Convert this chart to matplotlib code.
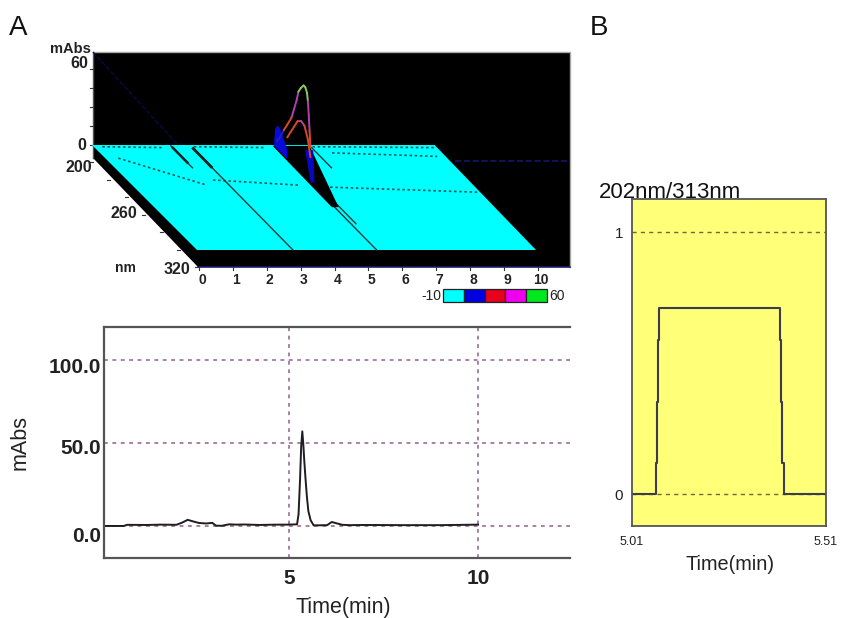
#!/usr/bin/env python3
"""
UV chromatogram figure: 3D spectrum view, 2D trace and peak purity ratio.
"""
import matplotlib
matplotlib.use("Agg")
import matplotlib.pyplot as plt
from matplotlib.transforms import ScaledTranslation
import numpy as np

W, H = 841, 618
plt.rcParams['font.family'] = ['Liberation Sans', 'DejaVu Sans']

# 3D view: spectrum outlines at the main peak (nm, mAbs)
outer_nm = [204, 208, 212, 216, 221, 224, 227, 229, 232, 235, 237, 239, 240, 241, 242, 243]
outer_abs = [6, 12, 20, 27, 36, 45, 54, 62, 67, 71, 71, 68, 62, 52, 40, 28]
inner_nm = [216, 220, 224, 228, 232, 236, 240, 243]
inner_abs = [17, 24, 31, 38, 41, 40, 32, 20]
blob_nm = [201, 202, 205, 208, 211, 214, 216]
blob_abs = [5, 14, 19, 18, 14, 10, 7]

# 3D view: floor features (time, nm)
wedge_t = [5.25, 6.34, 5.42, 5.22]
wedge_nm = [201, 201, 271, 271]
wedge_blue_t = [6.08, 6.32, 5.42, 5.31]
wedge_blue_nm = [206, 206, 243, 243]
ridge_lines_t = [2.83, 5.3, 5.45, 2.25, 6.35]
ridge_lines_nm = [(204, 320), (201, 320), (201, 290), (201, 226), (203, 226)]
noise_t = [[0.34, 2.18], [2.5, 4.92], [5.6, 10.0], [0.2, 2.0], [2.9, 5.0],
           [6.4, 10.0], [6.8, 9.8]]
noise_nm = [[215, 246], [240, 246], [248, 254], [202, 203], [202, 203],
            [202, 203], [209, 213]]

bar_colors = ['#00ffff', '#0000e0', '#e8001c', '#f000f0', '#00e820']
line_colors = ['#2020c0', '#2020c0', '#d8482a', '#b040b0', '#8cc860']
contour_limits = [-10, 4, 18, 40, 60]
abs_limits = [-10, 60]
time_ticks_3d = list(range(11))
nm_ticks = [200, 260, 320]

# chromatogram
trace_t = [0.1, 0.6, 0.7, 1.2, 1.6, 2.0, 2.15, 2.3, 2.45, 2.6, 2.8, 2.95, 3.05, 3.2, 3.4, 3.6, 3.8,
           4.2, 4.6, 4.95, 5.2, 5.24, 5.28, 5.31, 5.34, 5.37, 5.39, 5.42, 5.46, 5.5, 5.56, 5.64,
           5.8, 6.0, 6.12, 6.25, 6.4, 6.6, 7.0, 8.0, 9.0, 10.0]
trace_v = [0.0, 0.0, 0.7, 0.6, 0.8, 0.7, 2.0, 3.7, 2.7, 1.8, 1.5, 1.9, 0.2, 0.1, 1.0, 0.8, 0.9,
           0.6, 0.8, 0.8, 1.0, 7.0, 28.0, 48.0, 57.0, 48.0, 40.0, 30.0, 18.0, 9.0, 3.5, 0.4,
           0.4, 0.5, 2.4, 1.6, 0.7, 0.5, 0.6, 0.5, 0.5, 0.8]
trace_xticks = [5, 10]
trace_yticks = [0, 50, 100]
trace_ylabels = ['0.0', '50.0', '100.0']

# purity ratio
ratio_t = [5.01, 5.072, 5.072, 5.075, 5.075, 5.078, 5.078, 5.080, 5.080,
           5.391, 5.391, 5.395, 5.395, 5.397, 5.397, 5.401, 5.401, 5.51]
ratio_v = [0, 0, 0.117, 0.117, 0.352, 0.352, 0.588, 0.588, 0.711,
           0.711, 0.588, 0.588, 0.352, 0.352, 0.117, 0.117, 0, 0]


def px_axes(fig, left, top, right, bottom):
    return fig.add_axes([left / W, 1 - bottom / H, (right - left) / W, (bottom - top) / H])


def project(t, nm, a=0.0):
    """Oblique projection of the instrument's 3D view, in figure pixels."""
    t, nm, a = np.asarray(t, float), np.asarray(nm, float), np.asarray(a, float)
    back = 320 - nm
    return 197 + 33.9 * t - 0.86 * back, 250 - 0.875 * back - 1.27 * a


fig = plt.figure(figsize=(W / 100, H / 100), dpi=100)

# overlay in pixel units for the 3D view
ov = fig.add_axes([0, 0, 1, 1])
ov.set_xlim(0, W)
ov.set_ylim(H, 0)
ov.axis('off')

ov.fill([93, 570, 570, 198, 93], [52, 52, 267, 267, 158], color='black', lw=0, zorder=1)
ov.plot([93, 570, 570], [52, 52, 267], color='#a8a8a8', lw=1, zorder=1)
ov.plot([198, 570], [267, 267], color='#1c1c70', lw=1.2, zorder=2)
ov.plot([93, 93], [52, 158], color='#555555', lw=1, zorder=2)
ov.plot([93, 178], [52, 145], color='#0a0a50', lw=0.9, ls='--', zorder=2)
ov.plot([455, 570], [161, 161], color='#16166a', lw=1.2, ls='--', zorder=2)

fx, fy = project([0, 10, 10, 0], [200, 200, 320, 320])
fx = fx + np.array([-1.8, 1.8, 0, 0])
ov.fill(fx, fy, color='#00ffff', lw=0, zorder=3)

for t, nm in zip(noise_t, noise_nm):
    x, y = project(t, nm)
    ov.plot(x, y, color='#1f5a5a', lw=1.2, ls=(0, (1.5, 1.6)), zorder=4)

for t, nm in zip(ridge_lines_t, ridge_lines_nm):
    x, y = project([t, t], nm)
    ov.plot(x, y, color='#1a3a3a', lw=1.0, zorder=4)
x, y = project([2.25, 2.25], [203, 220])
ov.plot(x, y, color='#102020', lw=1.8, zorder=4)
x, y = project([2.83, 2.83], [204, 225])
ov.plot(x, y, color='#102020', lw=2.0, zorder=4)

x, y = project(wedge_t, wedge_nm)
ov.fill(x, y, color='black', lw=0, zorder=5)
x, y = project(wedge_blue_t, wedge_blue_nm)
ov.fill(x, y, color='#0808c0', lw=0, zorder=6)

# blue foot of the peak, then the contour coloured spectrum outlines
x, y = project(5.3, blob_nm, blob_abs)
x0, y0 = project(5.3, blob_nm)
ov.fill(np.r_[x, x0[::-1]], np.r_[y, y0[::-1]], color='#0a0ad8', lw=0, zorder=6)
for nm, a in ((outer_nm, outer_abs), (inner_nm, inner_abs)):
    x, y = project(5.3, nm, a)
    levels = np.digitize((np.array(a[:-1]) + np.array(a[1:])) / 2, contour_limits) - 1
    for i, lev in enumerate(levels):
        ov.plot(x[i:i + 2], y[i:i + 2], color=line_colors[min(lev, 4)], lw=1.4, zorder=7,
                solid_capstyle='round')

# 3D view ticks and labels
for t in time_ticks_3d:
    tx, _ = project(t, 320)
    ov.plot([tx + 2, tx + 2], [267, 270], color='#333333', lw=0.8)
    ov.text(tx + 5, 280, str(t), ha='center', va='center', fontsize=10, fontweight='bold',
            color='#222222')
for a in np.arange(0, 61, 15):
    ov.plot([90, 93], [145 - a * 1.27] * 2, color='#333333', lw=0.8)
for nm in np.arange(200, 321, 20):
    _, ny = project(0, nm)
    ex = 93 + (nm - 200) * 105 / 120
    ov.plot([ex - 3, ex], [ny + 17, ny + 17], color='#333333', lw=0.8)
nm_label_xy = [(92, 167), (137, 213), (190, 270)]
for nm, (lx, ly) in zip(nm_ticks, nm_label_xy):
    ov.text(lx, ly, str(nm), ha='right', va='center', fontsize=11.5, fontweight='bold',
            color='#222222')
ov.text(125, 268, 'nm', ha='center', va='center', fontsize=10, fontweight='bold', color='#222222')
ov.text(70, 49, 'mAbs', ha='center', va='center', fontsize=10.5, fontweight='bold', color='#222222')
ov.text(88, 64, '60', ha='right', va='center', fontsize=11.5, fontweight='bold', color='#222222')
ov.text(86, 146, '0', ha='right', va='center', fontsize=11.5, fontweight='bold', color='#222222')

# colour key
edges = np.linspace(443, 547, len(bar_colors) + 1)
for i, c in enumerate(bar_colors):
    ov.fill([edges[i], edges[i + 1], edges[i + 1], edges[i]], [289, 289, 302, 302],
            facecolor=c, edgecolor='#222222', lw=0.9, zorder=3)
ov.text(441, 295.5, str(abs_limits[0]), ha='right', va='center', fontsize=10, color='#222222')
ov.text(549, 295.5, str(abs_limits[-1]), ha='left', va='center', fontsize=10, color='#222222')

ov.text(18, 28, 'A', ha='center', va='center', fontsize=20, color='#111111')
ov.text(599, 28, 'B', ha='center', va='center', fontsize=20, color='#111111')

# chromatogram
ax = px_axes(fig, 104, 327, 570, 558)
ax.patch.set_alpha(0)
ax.set_xlim(0.08, 12.44)
ax.set_ylim(-19.3, 119.9)
grid_c = '#8e6288'
for v in trace_xticks:
    ax.axvline(v, color=grid_c, lw=1.1, ls=(0, (2.5, 3)))
for v in trace_yticks:
    ax.axhline(v, color=grid_c, lw=1.1, ls=(0, (2.5, 3)))
ax.plot(trace_t, trace_v, color='#1e1e1e', lw=1.4)
ax.spines['right'].set_visible(False)
for side in ('top', 'left', 'bottom'):
    ax.spines[side].set_color('#555555')
    ax.spines[side].set_linewidth(1.6)
ax.set_xticks(trace_xticks)
ax.set_xticklabels([str(v) for v in trace_xticks], fontsize=15, fontweight='bold', color='#222222')
ax.set_yticks(trace_yticks)
ax.set_yticklabels(trace_ylabels, fontsize=15, fontweight='bold', color='#222222')
ax.tick_params(length=0, pad=2)
ax.tick_params(axis='x', pad=8)
# the printed labels sit a little below their grid lines
for lab, dy in zip(ax.get_yticklabels(), [-9, -4, -5]):
    lab.set_transform(lab.get_transform() + ScaledTranslation(0, dy / 100, fig.dpi_scale_trans))
ov.text(343, 607, 'Time(min)', ha='center', va='center', fontsize=15.5, color='#222222')
ov.text(20, 442, 'mAbs', ha='center', va='center', rotation=90, fontsize=15.5, color='#222222')

# purity ratio panel
axb = px_axes(fig, 632, 199, 826, 526)
axb.set_facecolor('#ffff78')
axb.set_xlim(5.01, 5.51)
axb.set_ylim(-0.122, 1.126)
for v in (0, 1):
    axb.axhline(v, color='#6a6a3a', lw=1, ls=(0, (3, 3)))
axb.plot(ratio_t, ratio_v, color='#3c3c50', lw=1.5)
for s in axb.spines.values():
    s.set_color('#555555')
    s.set_linewidth(1.3)
axb.set_xticks([5.01, 5.51])
axb.set_xticklabels(['5.01', '5.51'], fontsize=9, color='#222222')
axb.set_yticks([0, 1])
axb.set_yticklabels(['0', '1'], fontsize=11, color='#222222')
axb.tick_params(length=0, pad=6.5)
axb.tick_params(axis='x', pad=7)
ov.text(599, 192, '202nm/313nm', ha='left', va='center', fontsize=16, color='#111111', zorder=10)
ov.text(730, 565, 'Time(min)', ha='center', va='center', fontsize=14.3, color='#222222')

ov.set_zorder(5)
fig.savefig('out.png', dpi=100)
